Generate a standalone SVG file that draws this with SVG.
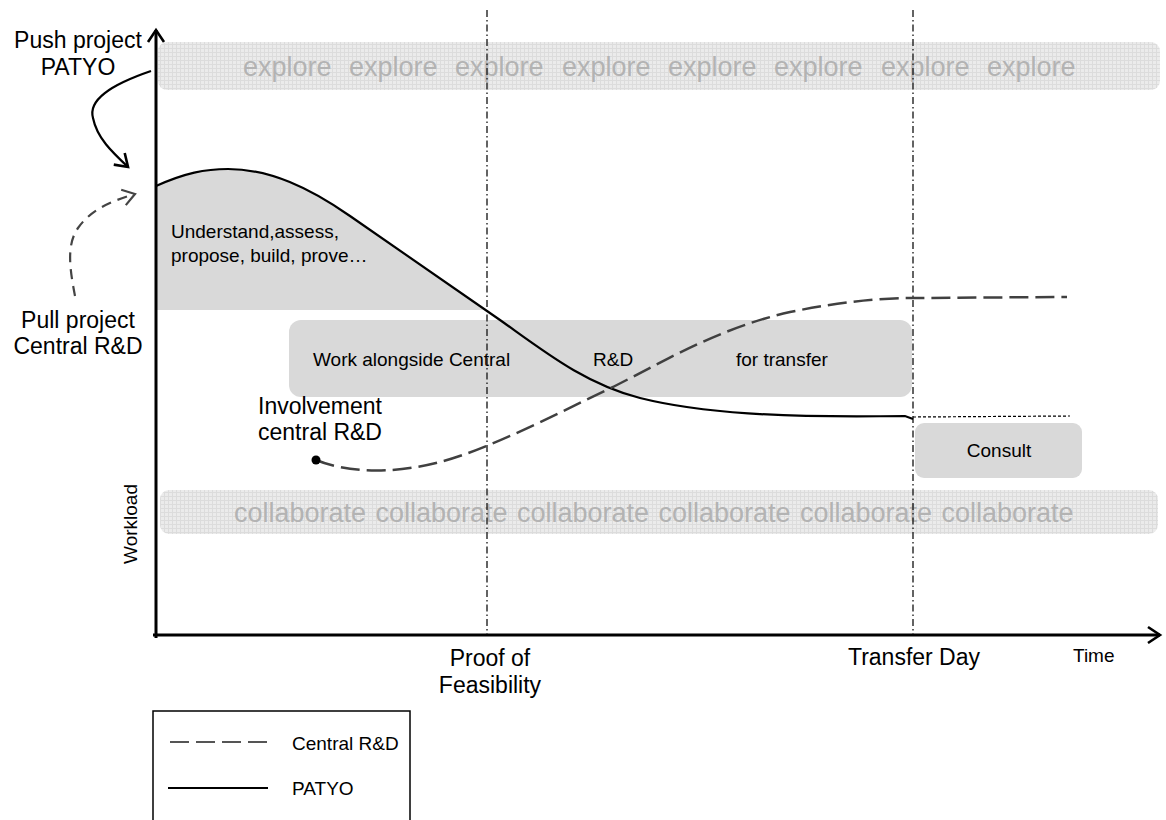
<svg xmlns="http://www.w3.org/2000/svg" width="1166" height="820" viewBox="0 0 1166 820">
<defs>
<pattern id="grid" width="4" height="4" patternUnits="userSpaceOnUse">
<rect width="4" height="4" fill="#ebebeb"/>
<path d="M0,0.5H4M0.5,0V4" stroke="#dcdcdc" stroke-width="1"/>
</pattern>
<marker id="chev" viewBox="0 0 20 20" refX="16" refY="10" markerWidth="20" markerHeight="20" markerUnits="userSpaceOnUse" orient="auto">
<path d="M4,2 L16,10 L4,18" fill="none" stroke="#000" stroke-width="2.6"/>
</marker>
<marker id="chevd" viewBox="0 0 20 20" refX="16" refY="10" markerWidth="20" markerHeight="20" markerUnits="userSpaceOnUse" orient="auto">
<path d="M4,2 L16,10 L4,18" fill="none" stroke="#444" stroke-width="2.2"/>
</marker>
</defs>
<style>
text{font-family:"Liberation Sans",Arial,sans-serif;fill:#000}
.big{font-size:23px}
.sm{font-size:19px}
.band{font-size:27px;fill:#b3b3b3}
.box{fill:#d9d9d9}
.vline{stroke:#222;stroke-width:1.4;stroke-dasharray:7,3,1.5,3;fill:none}
.patyo{stroke:#000;stroke-width:2.2;fill:none}
.crd{stroke:#404040;stroke-width:2.5;fill:none;stroke-dasharray:19,7}
.axis{stroke:#000;stroke-width:3;fill:none}
</style>

<g id="explore-band">
<rect x="158" y="42" width="1002" height="48" rx="9" fill="url(#grid)"/>
<text class="band" y="76"><tspan x="243">explore</tspan><tspan x="349">explore</tspan><tspan x="455">explore</tspan><tspan x="562">explore</tspan><tspan x="668">explore</tspan><tspan x="774">explore</tspan><tspan x="881">explore</tspan><tspan x="987">explore</tspan></text>
</g>

<g id="collaborate-band">
<rect x="160" y="490" width="998" height="44" rx="9" fill="url(#grid)"/>
<text class="band" y="522"><tspan x="234">collaborate</tspan><tspan x="375.5">collaborate</tspan><tspan x="517">collaborate</tspan><tspan x="658.5">collaborate</tspan><tspan x="800">collaborate</tspan><tspan x="941.5">collaborate</tspan></text>
</g>

<g id="shaded-area">
<path class="box" d="M156,186 C185,173 205,169 228,169 C270,169 310,188 350,216 L486,310 L156,310 Z"/>
<text class="sm" x="171" y="238">Understand,assess,</text>
<text class="sm" x="171" y="262">propose, build, prove…</text>
</g>

<g id="work-box">
<rect class="box" x="289" y="320" width="623" height="77" rx="12"/>
<text class="sm" x="313" y="366">Work alongside Central</text>
<text class="sm" x="593" y="366">R&amp;D</text>
<text class="sm" x="736" y="366">for transfer</text>
</g>

<g id="consult-box">
<rect class="box" x="915" y="423" width="167" height="55" rx="9"/>
<text class="sm" x="999" y="457" text-anchor="middle">Consult</text>
</g>

<g id="milestones">
<line class="vline" x1="487" y1="10" x2="487" y2="635"/>
<line class="vline" x1="913" y1="10" x2="913" y2="635"/>
</g>

<g id="axes">
<line class="axis" x1="156" y1="638" x2="156" y2="30" marker-end="url(#chev)"/>
<line class="axis" x1="153" y1="635" x2="1160" y2="635" marker-end="url(#chev)"/>
<text class="sm" transform="translate(137,524) rotate(-90)" text-anchor="middle">Workload</text>
<text class="sm" x="1073" y="662">Time</text>
<text class="big" x="490" y="666" text-anchor="middle">Proof of</text>
<text class="big" x="490" y="693" text-anchor="middle">Feasibility</text>
<text class="big" x="914" y="665" text-anchor="middle">Transfer Day</text>
</g>

<g id="connectors">
<path class="patyo" d="M156,186 C185,173 205,169 228,169 C270,169 310,188 350,216 L500,320 C545,352 585,384 640,398 C700,413 780,418 905,416 L913,419"/>
<line x1="913" y1="417" x2="1070" y2="416" stroke="#000" stroke-width="1.2" stroke-dasharray="3,2"/>
<path class="crd" d="M316,460 C345,472 390,475 440,462 C490,449 560,412 613,387 C670,358 720,328 790,312 C840,302 880,298 913,298 L1067,297"/>
<circle cx="316" cy="460" r="4.5" fill="#000"/>
<path d="M151,71 C110,85 88,100 93,118 C97,138 112,152 128,167" fill="none" stroke="#000" stroke-width="2.2" marker-end="url(#chev)"/>
<path d="M75,296 C70,270 66,245 78,228 C92,208 115,200 135,194" fill="none" stroke="#444" stroke-width="2.2" stroke-dasharray="10,7" marker-end="url(#chevd)"/>
</g>

<g id="labels">
<text class="big" x="78" y="48" text-anchor="middle">Push project</text>
<text class="big" x="78" y="75" text-anchor="middle">PATYO</text>
<text class="big" x="78" y="328" text-anchor="middle">Pull project</text>
<text class="big" x="78" y="354" text-anchor="middle">Central R&amp;D</text>
<text class="big" x="258" y="414">Involvement</text>
<text class="big" x="258" y="440">central R&amp;D</text>
</g>

<g id="legend">
<rect x="153" y="711" width="257" height="130" fill="none" stroke="#000" stroke-width="1.5"/>
<line x1="170" y1="742" x2="267" y2="742" stroke="#555" stroke-width="2" stroke-dasharray="19,7"/>
<text class="sm" x="292" y="750">Central R&amp;D</text>
<line x1="168" y1="788" x2="268" y2="788" stroke="#000" stroke-width="2"/>
<text class="sm" x="292" y="795">PATYO</text>
</g>
</svg>
